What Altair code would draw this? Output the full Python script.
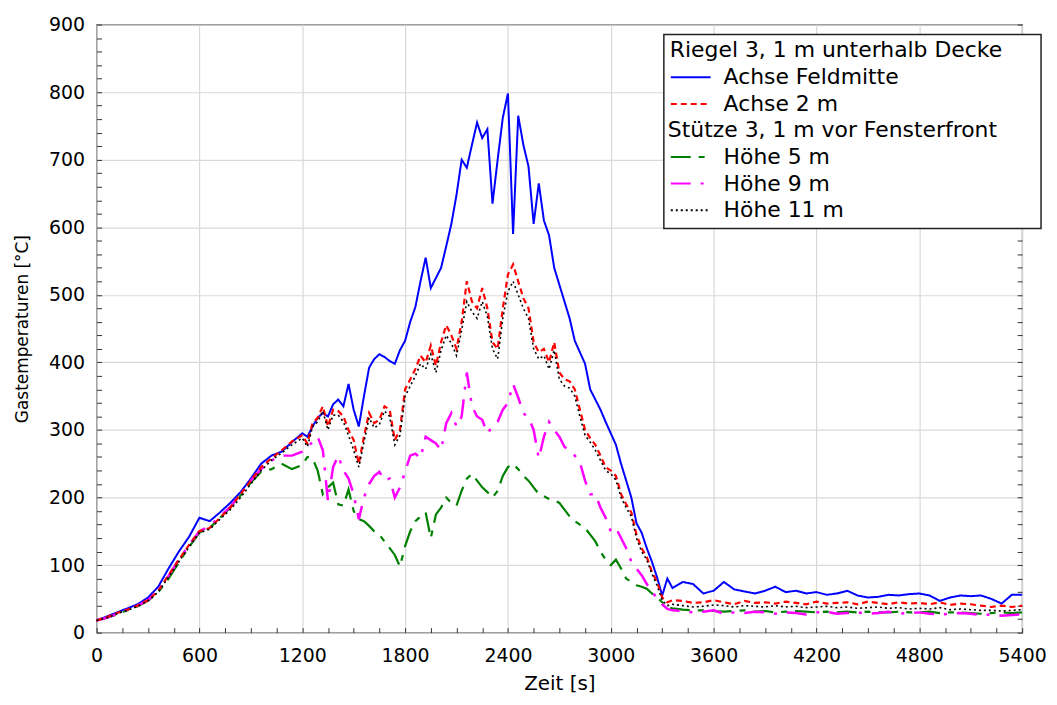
import altair as alt
import pandas as pd

# time grid [s]
times_a = list(range(0, 1201, 60))
times_b = list(range(1230, 3361, 30))
times_c = list(range(3420, 5401, 60))
zeit = times_a + times_b + times_c

# Riegel 3 - Achse Feldmitte
blau = [18, 24, 30, 36, 42, 52, 68, 95, 120, 142, 170, 165, 178, 192, 208, 228, 250, 262, 268, 282, 295,
        290, 305, 318, 325, 320, 338, 345, 335, 368, 330,
        305, 350, 392, 405, 412, 408, 402, 398, 418, 432,
        460, 482, 520, 555, 510, 525, 540, 572, 605, 648,
        700, 688, 722, 755, 732, 745, 635, 700, 762, 798,
        590, 765, 722, 690, 605, 665, 610, 588, 540, 515,
        490, 465, 432, 415, 398, 360, 345, 330, 312, 295,
        278, 250, 225, 200, 162, 148, 125, 105, 82, 55,
        80, 66,
        75, 72, 58, 62, 75, 64, 61, 58, 62, 68,
        60, 62, 58, 60, 56, 58, 62, 55, 52, 53,
        56, 55, 57, 58, 55, 47, 52, 55, 54, 55,
        50, 43, 56, 56]

# Riegel 3 - Achse 2 m
rot = [18, 23, 29, 34, 40, 48, 62, 85, 108, 130, 150, 155, 170, 185, 205, 225, 245, 258, 270, 283, 292,
       280, 310, 318, 335, 305, 330, 328, 320, 300, 285,
       250, 290, 325, 310, 315, 335, 330, 285, 300, 360,
       375, 390, 410, 400, 425, 395, 430, 455, 440, 420,
       460, 520, 490, 480, 510, 480, 430, 420, 480, 530,
       545, 520, 495, 480, 430, 415, 420, 400, 430, 385,
       375, 372, 360, 330, 300, 288, 278, 262, 245, 240,
       232, 205, 190, 178, 145, 125, 112, 90, 75, 52,
       45, 48,
       47, 44, 45, 48, 45, 42, 47, 44, 45, 43,
       46, 44, 42, 46, 43, 44, 45, 42, 46, 44,
       42, 45, 43, 44, 42, 45, 41, 43, 42, 40,
       38, 40, 38, 40]

# Stütze 3 - Höhe 11 m
schwarz = [18, 22, 28, 33, 39, 47, 60, 82, 105, 127, 148, 153, 168, 182, 200, 220, 240, 255, 266, 278, 288,
           275, 305, 312, 328, 300, 322, 322, 312, 292, 270,
           245, 282, 318, 303, 308, 328, 320, 278, 292, 350,
           365, 380, 398, 390, 412, 385, 418, 440, 428, 410,
           448, 490, 475, 465, 490, 468, 420, 405, 465, 505,
           520, 500, 480, 465, 420, 405, 410, 390, 418, 375,
           365, 362, 350, 320, 292, 282, 270, 255, 240, 235,
           226, 200, 185, 172, 140, 120, 108, 87, 70, 48,
           40, 42,
           40, 38, 39, 41, 40, 38, 40, 39, 38, 40,
           38, 39, 37, 38, 39, 37, 38, 36, 37, 38,
           36, 37, 35, 36, 35, 37, 34, 35, 34, 33,
           33, 32, 33, 34]

# Stütze 3 - Höhe 9 m
magenta = [18, 22, 28, 34, 40, 48, 62, 84, 108, 130, 150, 158, 172, 186, 205, 225, 242, 255, 262, 262, 268,
           275, 282, 290, 270, 195, 245, 262, 240, 228, 205,
           168, 200, 220, 232, 238, 225, 228, 200, 215, 238,
           262, 265, 258, 290, 285, 280, 270, 310, 325, 305,
           320, 385, 335, 320, 315, 295, 305, 312, 330, 340,
           368, 348, 325, 318, 300, 258, 290, 312, 300, 290,
           275, 270, 262, 252, 225, 205, 205, 185, 170, 150,
           155, 140, 125, 105, 95, 85, 72, 62, 50, 42,
           35, 33,
           32, 30, 31, 33, 28, 30, 29, 31, 30, 28,
           30, 29, 27, 30, 31, 28, 29, 30, 28, 29,
           31, 28, 29, 30, 28, 27, 28, 29, 28, 26,
           27, 25, 26, 27]

# Stütze 3 - Höhe 5 m
gruen = [18, 22, 27, 33, 39, 47, 60, 80, 104, 127, 148, 155, 170, 185, 203, 222, 238, 242, 250, 242, 248,
         260, 258, 240, 205, 215, 222, 190, 188, 212, 180,
         168, 165, 158, 150, 145, 135, 125, 115, 98, 128,
         150, 165, 172, 178, 140, 175, 185, 200, 192, 188,
         210, 228, 235, 225, 215, 208, 200, 210, 232, 245,
         250, 242, 232, 225, 215, 205, 202, 198, 196, 192,
         182, 172, 165, 160, 155, 145, 135, 120, 108, 100,
         108, 95, 80, 75, 70, 68, 65, 58, 52, 45,
         38, 36,
         34, 33, 33, 32, 31, 32, 33, 31, 32, 30,
         31, 32, 31, 30, 31, 30, 31, 30, 31, 30,
         30, 31, 30, 30, 31, 29, 30, 30, 29, 28,
         29, 30, 29, 30]

NB = "\u00a0"
BLANK = "\u2800"
header_1 = "Riegel 3, 1 m unterhalb Decke"
header_2 = "Stütze 3, 1 m vor Fensterfront"
placeholder = NB
series_names = ["Achse Feldmitte", "Achse 2 m", placeholder, "Höhe 5 m", "Höhe 9 m", "Höhe 11 m"]
series_colors = ["#0000ff", "#ff0000", "rgba(0,0,0,0)", "#008000", "#ff00ff", "#000000"]
series_dashes = [[1, 0], [6, 4], [1, 0], [20, 8, 6, 8], [20, 10, 3, 10], [2, 3]]
series_widths = {"Achse Feldmitte": 2, "Achse 2 m": 2.2, "Höhe 5 m": 2.2, "Höhe 9 m": 2.5, "Höhe 11 m": 1.6}
series_values = {"Achse Feldmitte": blau, "Achse 2 m": rot, "Höhe 5 m": gruen,
                 "Höhe 9 m": magenta, "Höhe 11 m": schwarz}
draw_order = ["Achse Feldmitte", "Höhe 5 m", "Höhe 9 m", "Achse 2 m", "Höhe 11 m"]

x_ticks = list(range(0, 5401, 600))
x_minor = list(range(0, 5401, 150))
y_ticks = list(range(0, 901, 100))
y_minor = list(range(0, 901, 20))

rows = []
for name, vals in series_values.items():
    for t, v in zip(zeit, vals):
        rows.append({"t": t, "T": v, "series": name})
df = pd.DataFrame(rows)

FONT = "DejaVu Sans"
PW, PH = 930, 611

x_scale = alt.Scale(domain=[0, 5400], nice=False, zero=False)
y_scale = alt.Scale(domain=[0, 900], nice=False, zero=False)

legend_a = alt.Legend(
    title=header_1 + BLANK * 2, orient="none", legendX=570, legendY=10,
    symbolType="stroke", symbolSize=1600, symbolStrokeWidth=2,
    clipHeight=24, rowPadding=2.7, labelOffset=12, titlePadding=3, padding=6,
    labelLimit=600, titleLimit=600,
    fillColor="white", strokeColor="#222", cornerRadius=0,
    labelFont=FONT, labelFontSize=22, labelColor="black",
    titleFont=FONT, titleFontSize=22, titleFontWeight="normal", titleColor="black",
)
legend_b = alt.Legend(
    title=None, orient="none", legendX=546, legendY=88,
    symbolSize=0, symbolOpacity=0, symbolStrokeWidth=0, labelOffset=0,
    clipHeight=24, padding=6, labelLimit=600,
    labelFont=FONT, labelFontSize=22, labelColor="black",
)

color_enc = alt.Color("series:N", scale=alt.Scale(domain=series_names, range=series_colors),
                      legend=legend_a, sort=series_names)
dash_enc = alt.StrokeDash("series:N", scale=alt.Scale(domain=series_names, range=series_dashes),
                          legend=legend_a, sort=series_names)

x_axis_main = alt.Axis(values=x_ticks, format="d", grid=True, gridColor="#d9d9d9", gridWidth=1.2,
                       ticks=False, tickSize=0, domain=False, labelFlush=False,
                       labelFont=FONT, labelFontSize=19, labelColor="black", labelPadding=14,
                       title="Zeit [s]", titleFont=FONT, titleFontSize=20,
                       titleFontWeight="normal", titleColor="black", titlePadding=8)
y_axis_main = alt.Axis(values=y_ticks, format="d", grid=True, gridColor="#d9d9d9", gridWidth=1.2,
                       ticks=False, tickSize=0, domain=False, labelFlush=False,
                       labelFont=FONT, labelFontSize=19, labelColor="black", labelPadding=12,
                       title="Gastemperaturen [°C]", titleFont=FONT, titleFontSize=17,
                       titleFontWeight="normal", titleColor="black", titlePadding=17)

layers = []
for i, name in enumerate(draw_order):
    layers.append(
        alt.Chart(df).transform_filter(alt.datum.series == name)
        .mark_line(strokeWidth=series_widths[name], strokeCap="butt", strokeJoin="miter")
        .encode(
            x=alt.X("t:Q", scale=x_scale, axis=x_axis_main if i == 0 else None),
            y=alt.Y("T:Q", scale=y_scale, axis=y_axis_main if i == 0 else None),
            color=color_enc,
            strokeDash=dash_enc,
            order="t:Q",
        )
    )

tick_df = pd.DataFrame({"t": [0], "T": [0], "hdr": [header_2]})
tick_common = dict(labels=False, domain=False, grid=False, ticks=True, tickSize=5,
                   tickColor="#333", tickWidth=1, title=None)
ticks_1 = alt.Chart(tick_df).mark_point(opacity=0).encode(
    x=alt.X("t:Q", scale=x_scale, axis=alt.Axis(orient="top", offset=-PH, values=x_minor, **tick_common)),
    y=alt.Y("T:Q", scale=y_scale, axis=alt.Axis(orient="right", offset=-PW, values=y_minor, **tick_common)),
    shape=alt.Shape("hdr:N", legend=legend_b),
)
ticks_2 = alt.Chart(tick_df).mark_point(opacity=0).encode(
    x=alt.X("t:Q", scale=x_scale, axis=None),
    y=alt.Y("T:Q", scale=y_scale, axis=alt.Axis(orient="left", offset=-PW, values=y_minor, **tick_common)),
)

chart = (
    alt.layer(*layers, ticks_1, ticks_2)
    .resolve_axis(x="independent", y="independent")
    .properties(width=PW, height=PH,
                autosize=alt.AutoSizeParams(type="none"),
                padding={"left": 89, "top": 15, "right": 27, "bottom": 60},
                background="white")
    .configure_view(stroke="#333", strokeWidth=1.2)
    .configure_legend(strokeWidth=1.5)
)

chart.save("out.html", embed_options={"renderer": "svg", "actions": False})
